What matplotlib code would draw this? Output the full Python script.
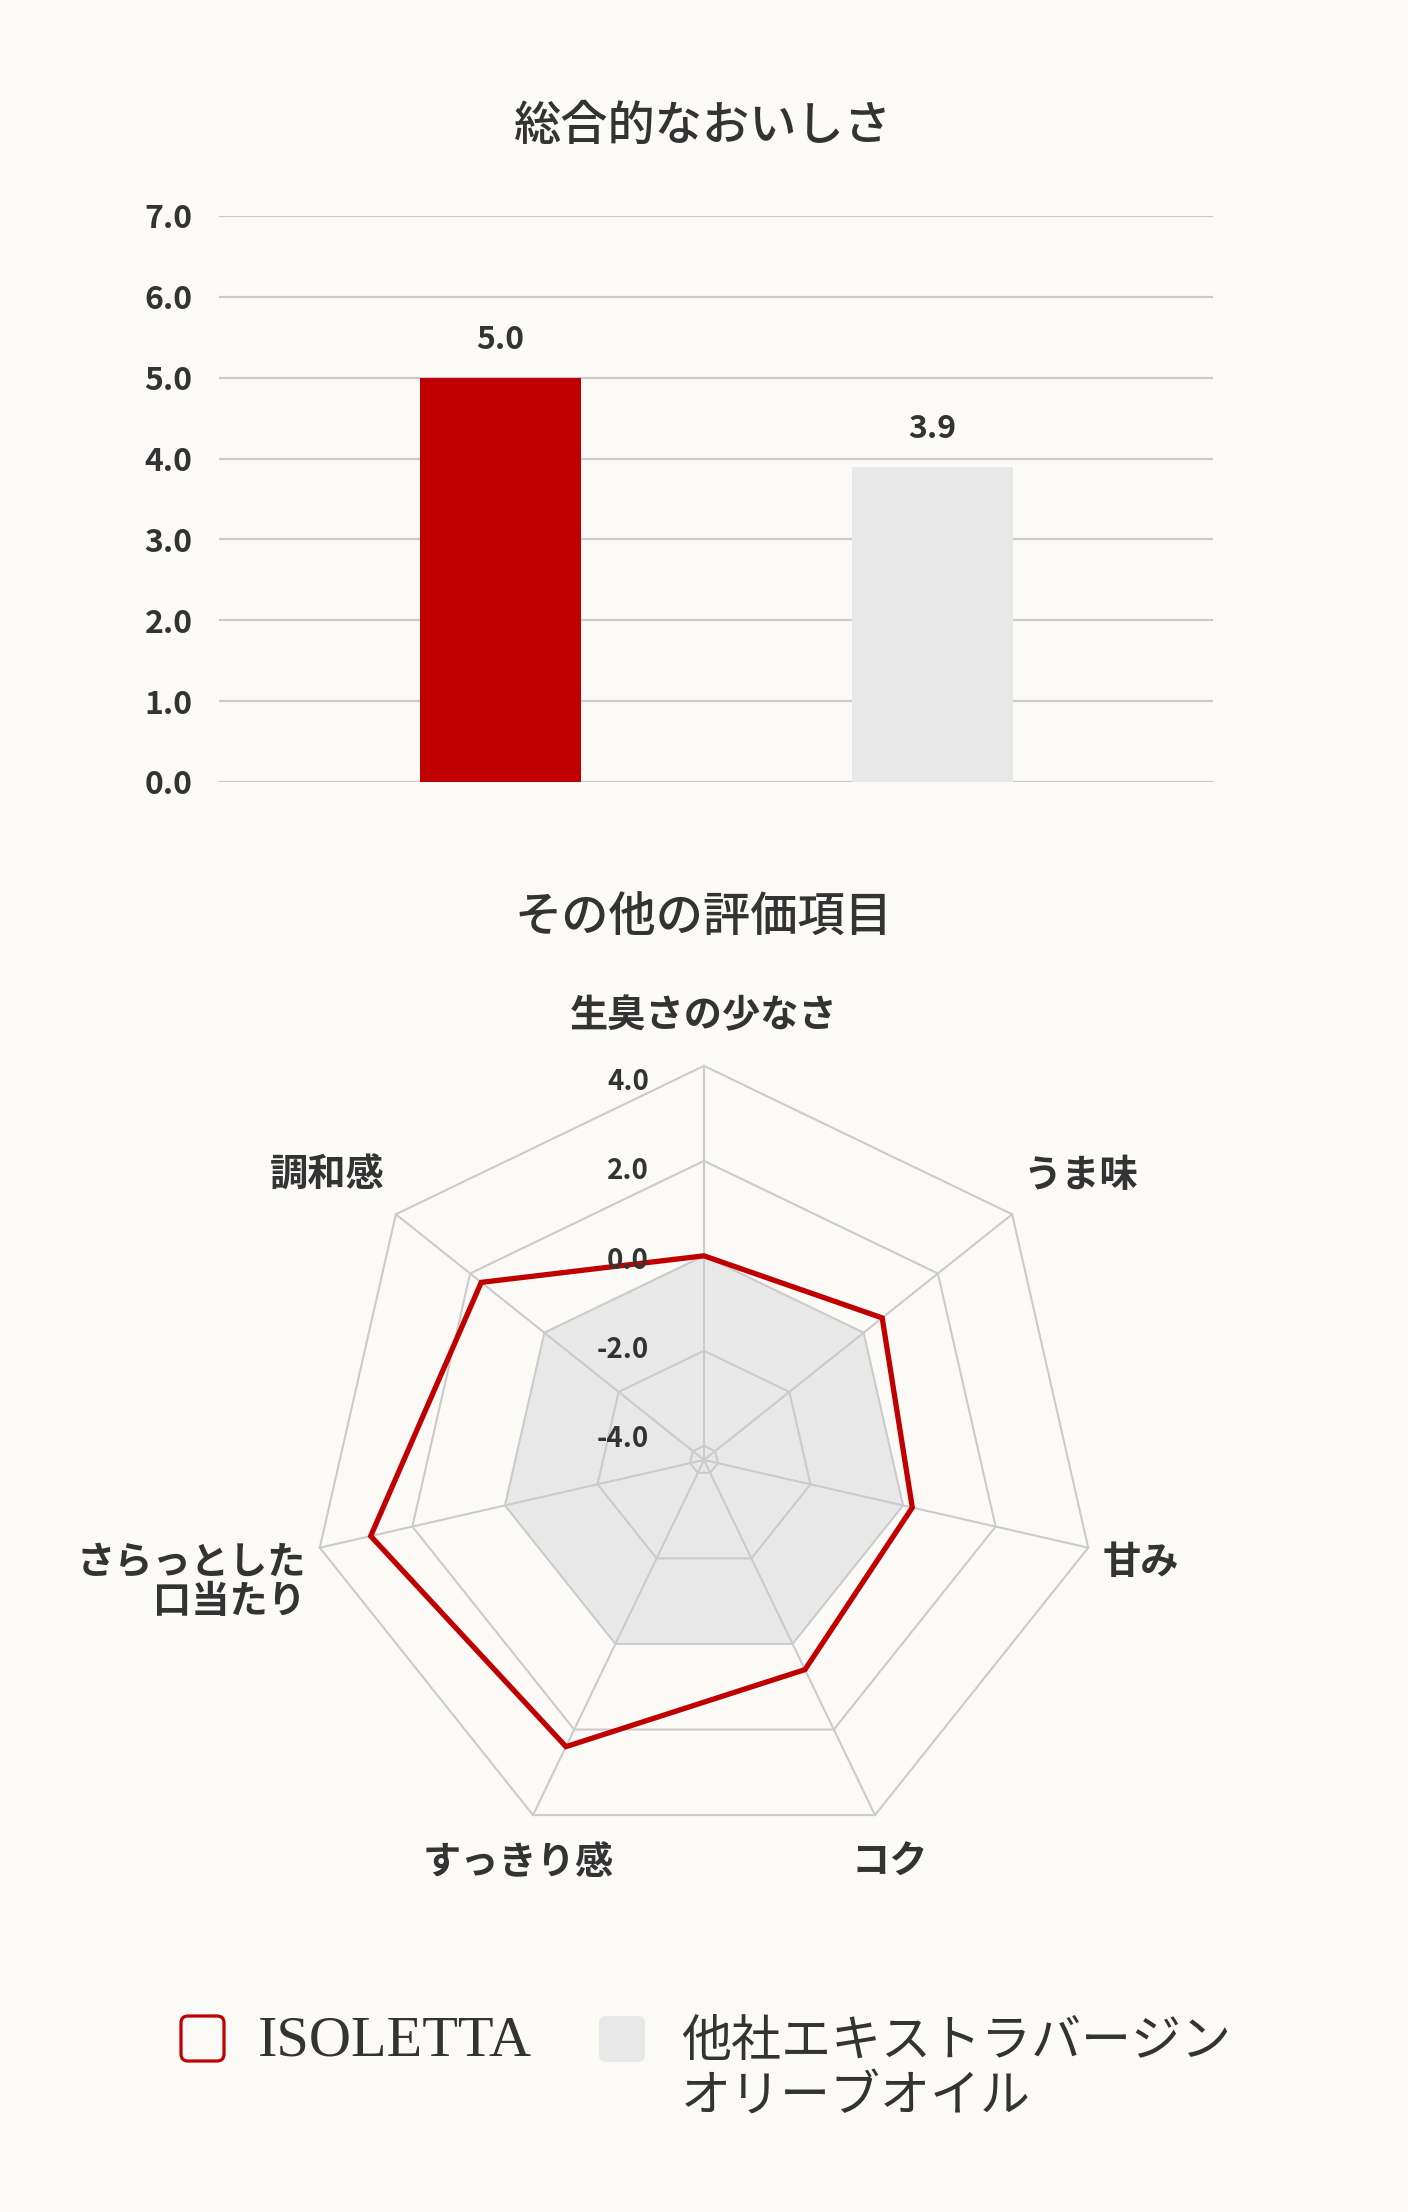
import numpy as np
import matplotlib
matplotlib.use("Agg")
import matplotlib.pyplot as plt
from matplotlib.patches import FancyBboxPatch, Polygon

W, H = 1408, 2212

# データ
bar_title = "総合的なおいしさ"
bar_series = ["ISOLETTA", "他社エキストラバージンオリーブオイル"]
bar_values = [5.0, 3.9]
bar_ticks = [0, 1, 2, 3, 4, 5, 6, 7]

radar_title = "その他の評価項目"
radar_labels = ["生臭さの少なさ", "うま味", "甘み", "コク", "すっきり感",
                "さらっとした\n口当たり", "調和感"]
isoletta_scores = [0.0, 0.5, 0.2, 0.6, 2.4, 2.9, 1.7]
other_scores = [0.0, 0.0, 0.0, 0.0, 0.0, 0.0, 0.0]
radar_ticks = [-4, -2, 0, 2, 4]
radar_min = -4.3

legend_labels = ["ISOLETTA", "他社エキストラバージン", "オリーブオイル"]

BG = "#fbfaf7"
RED = "#c00000"
GREY = "#e8e8e8"
GRID = "#cbcbcb"
TXT = "#333333"
JP = ["Noto Sans CJK JP", "DejaVu Sans"]

fig = plt.figure(figsize=(W / 100, H / 100), dpi=100, facecolor=BG)

# 棒グラフ
fig.text(703 / W, 1 - 126 / H, bar_title, family=JP, fontsize=34,
         fontweight="medium", color=TXT, ha="center", va="center")
axb = fig.add_axes([219 / W, 1 - 782 / H, 994 / W, 566 / H])
axb.set_facecolor("none")
x = np.arange(len(bar_values))
axb.bar(x, bar_values, width=0.373, color=[RED, GREY], zorder=3)
axb.set_xlim(-0.652, 1.649)
axb.set_ylim(0, 7)
axb.set_yticks(bar_ticks)
axb.set_yticklabels([f"{t:.1f}" for t in bar_ticks], family=JP, fontsize=23,
                    fontweight="bold", color=TXT)
axb.tick_params(axis="y", length=0, pad=19)
axb.set_xticks([])
axb.grid(axis="y", color=GRID, lw=1.6, zorder=0)
for s in axb.spines.values():
    s.set_visible(False)
for xi, v in zip(x, bar_values):
    axb.annotate(f"{v:.1f}", (xi, v), xytext=(0, 27), textcoords="offset points",
                 ha="center", va="center", family=JP, fontsize=23,
                 fontweight="bold", color=TXT)

# レーダーチャート
fig.text(703 / W, 1 - 918 / H, radar_title, family=JP, fontsize=34,
         fontweight="medium", color=TXT, ha="center", va="center")
axr = fig.add_axes([204 / W, 1 - 1960 / H, 1000 / W, 1000 / H])
lim = 10.53
axr.set_xlim(-lim, lim)
axr.set_ylim(-lim, lim)
axr.set_aspect("equal")
axr.axis("off")

n = len(radar_labels)
ang = np.arange(n) * 2 * np.pi / n
ux, uy = np.sin(ang), np.cos(ang)


def pts(vals):
    d = np.asarray(vals, dtype=float) - radar_min
    return np.column_stack([d * ux, d * uy])


axr.add_patch(Polygon(pts(other_scores), closed=True, fc=GREY, ec="none", zorder=1))
for t in radar_ticks:
    axr.add_patch(Polygon(pts([t] * n), closed=True, fill=False, ec=GRID, lw=1.5, zorder=2))
for px, py in pts([radar_ticks[-1]] * n):
    axr.plot([0, px], [0, py], color=GRID, lw=1.5, zorder=2)
axr.add_patch(Polygon(pts(isoletta_scores), closed=True, fill=False, ec=RED,
                      lw=3.8, joinstyle="miter", zorder=4))

# 目盛ラベルは 0 を中心に少し詰めて並ぶ
for t in radar_ticks:
    axr.text(-1.16, -radar_min + t * 0.94 - 0.1, f"{t:.1f}", ha="right", va="center",
             family=JP, fontsize=20, fontweight="bold", color=TXT, zorder=5)

rx, ry = 8.6, 8.95
for lab, sx, cy in zip(radar_labels, ux, uy):
    ha = "center" if abs(sx) < 0.5 else ("left" if sx > 0 else "right")
    va = "bottom" if cy > 0 else "top"
    lx = (9.0 if ha == "center" else rx) * sx
    ly = ry * cy + (0.25 if abs(cy) < 0.5 else 0.0)
    axr.text(lx, ly, lab, ha=ha, va=va, multialignment="right",
             family=JP, fontsize=27.5, fontweight="bold", color=TXT, linespacing=1.0)

# 凡例
lax = fig.add_axes([0, 0, 1, 1])
lax.set_xlim(0, W)
lax.set_ylim(H, 0)
lax.axis("off")
lax.add_patch(FancyBboxPatch((181, 2016), 43, 45, boxstyle="round,pad=0,rounding_size=7",
                             fc="none", ec=RED, lw=2.3))
lax.add_patch(FancyBboxPatch((599, 2016), 46, 46, boxstyle="round,pad=0,rounding_size=7",
                             fc=GREY, ec="none"))
lax.text(258, 2056, legend_labels[0], family="Liberation Serif", fontsize=42,
         color=TXT, ha="left", va="baseline")
lax.text(681, 2056, legend_labels[1], family=JP, fontsize=36, color=TXT,
         ha="left", va="baseline")
lax.text(681, 2111, legend_labels[2], family=JP, fontsize=36, color=TXT,
         ha="left", va="baseline")

fig.savefig("out.png", dpi=100, facecolor=BG)
